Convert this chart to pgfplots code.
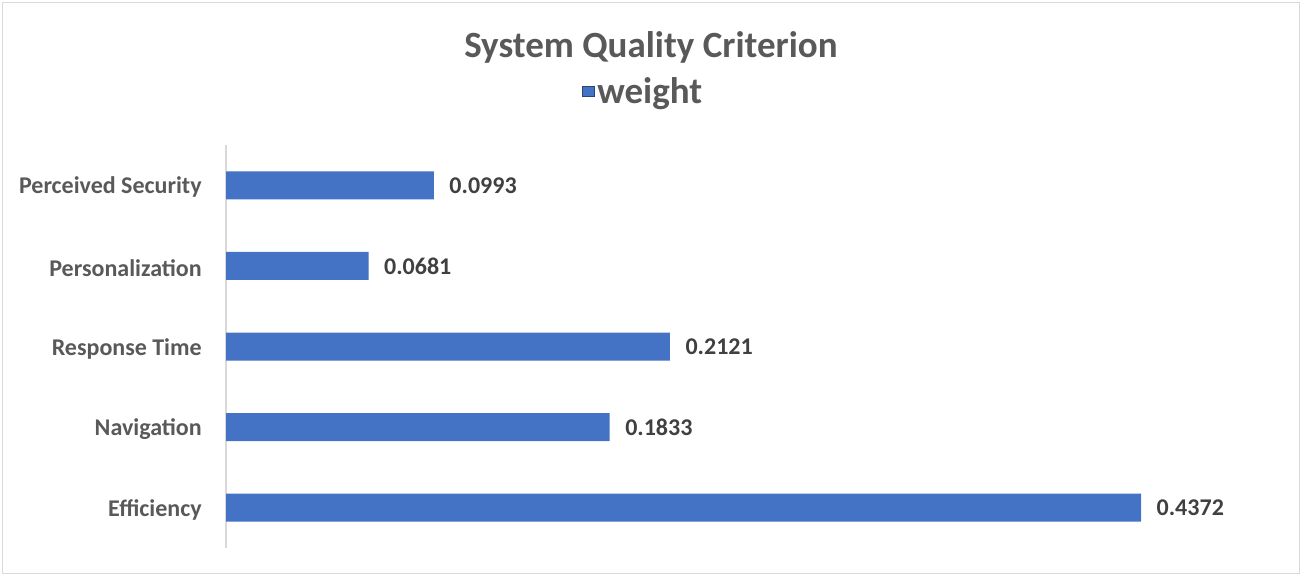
\documentclass[border=0pt]{standalone}
\usepackage{fontspec}
\setmainfont{Carlito}
\usepackage{pgfplots}
\usepackage{pgfplotstable}
\pgfplotsset{compat=1.18}
\definecolor{barblue}{HTML}{4472C4}
\definecolor{lblgray}{HTML}{595959}
\definecolor{valgray}{HTML}{404040}
\definecolor{axgray}{HTML}{D9D9D9}
\pgfplotstableread{
y x label
0 0.4372 0.4372
1 0.1833 0.1833
2 0.2121 0.2121
3 0.0681 0.0681
4 0.0993 0.0993
}\weights
\begin{document}
\begin{tikzpicture}
\useasboundingbox (0pt,0pt) rectangle (976.5pt,431.25pt);
\draw[color=axgray, line width=0.75pt] (1.5pt,1.5pt) rectangle (974.5pt,429.5pt);
\begin{axis}[
  at={(169.5pt,20.25pt)}, anchor=south west,
  scale only axis, width=784.875pt, height=302.25pt,
  xbar, bar width=21pt,
  xmin=0, xmax=0.5, ymin=-0.5, ymax=4.5,
  axis x line=none,
  axis y line*=left,
  y axis line style={color=axgray, line width=0.9pt},
  ytick={0,1,2,3,4},
  yticklabels={Efficiency,Navigation,Response Time,Personalization,Perceived Security},
  major tick length=0pt,
  yticklabel style={font=\bfseries\fontsize{18}{18}\selectfont, text=lblgray, inner sep=0pt, xshift=-18pt, yshift=-1.5pt},
  nodes near coords,
  point meta=explicit symbolic,
  nodes near coords style={anchor=west, inner sep=0pt, xshift=11.5pt, font=\bfseries\fontsize{18}{18}\selectfont, text=valgray},
  title={System Quality Criterion},
  title style={at={(rel axis cs:0.406,1.222)}, anchor=center, font=\bfseries\fontsize{27.75}{28}\selectfont, text=lblgray},
  legend style={at={(rel axis cs:0.399,1.132)}, anchor=center, draw=none, fill=none, font=\bfseries\fontsize{27.75}{28}\selectfont, text=lblgray, inner sep=0pt},
  legend image code/.code={\draw[fill=barblue, draw=barblue!60!black, line width=0.75pt] (-1pt,-3.8pt) rectangle (7.5pt,3.8pt);},
]
\addplot[fill=barblue, draw=none] table[x=x, y=y, meta=label] {\weights};
\addlegendentry{weight}
\end{axis}
\end{tikzpicture}
\end{document}
